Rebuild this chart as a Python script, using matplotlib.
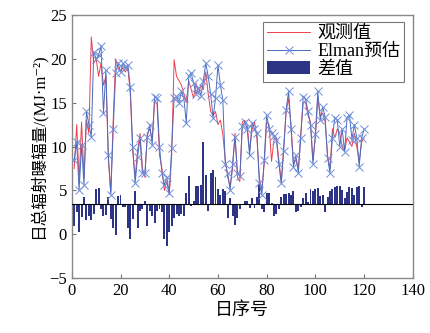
import numpy as np
import matplotlib
matplotlib.use('Agg')
import matplotlib.pyplot as plt

plt.rcParams['font.family'] = ['Liberation Serif', 'Noto Sans CJK SC', 'DejaVu Serif']

# 日序号
days = list(range(1, 121))

# 观测值
obs = [7.5, 12.5, 6.0, 12.8, 6.5, 13.0, 11.5, 22.5, 19.5, 20.0,
       18.0, 19.5, 17.0, 18.0, 8.5, 4.8, 13.0, 20.0, 19.0, 18.5,
       19.0, 18.5, 19.0, 16.0, 9.5, 6.5, 9.5, 11.5, 7.5, 6.5,
       11.5, 12.0, 10.8, 15.2, 14.8, 9.0, 7.5, 5.0, 6.0, 4.5,
       9.0, 19.9, 18.0, 17.5, 17.0, 16.0, 15.0, 17.5, 16.5, 15.5,
       17.2, 16.0, 17.0, 16.5, 18.5, 16.0, 14.0, 13.5, 14.0, 12.5,
       13.0, 11.4, 8.5, 6.5, 5.5, 7.5, 11.5, 6.5, 6.0, 12.8,
       13.0, 12.5, 9.5, 12.0, 12.8, 11.0, 6.5, 5.0, 8.0, 12.8,
       12.5, 8.3, 10.8, 11.0, 8.5, 6.0, 10.0, 14.0, 15.5, 12.5,
       8.0, 8.5, 7.5, 11.5, 15.0, 15.0, 13.5, 12.8, 8.5, 11.0,
       15.5, 13.5, 13.8, 12.8, 9.0, 7.5, 12.0, 11.0, 12.0, 11.5,
       10.0, 9.5, 11.0, 10.5, 10.0, 11.5, 10.0, 8.3, 10.5, 11.0]

# Elman预估
pred = [8.5, 10.5, 5.0, 10.2, 5.6, 14.0, 12.5, 11.1, 20.8, 20.0,
        20.4, 21.5, 13.8, 18.7, 9.0, 4.5, 12.0, 18.4, 19.5, 18.5,
        19.5, 19.0, 19.3, 16.8, 10.0, 5.8, 8.8, 11.0, 7.0, 7.0,
        11.1, 12.5, 10.2, 15.7, 15.5, 10.0, 7.0, 5.6, 6.5, 4.7,
        9.8, 15.5, 15.7, 15.0, 16.3, 15.5, 12.7, 18.0, 18.4, 17.2,
        16.0, 16.7, 15.8, 17.5, 19.5, 18.0, 16.0, 13.3, 15.5, 19.3,
        17.0, 15.3, 8.0, 7.0, 5.0, 8.0, 11.1, 7.0, 6.6, 12.3,
        12.8, 12.0, 9.0, 12.7, 12.0, 11.5, 5.8, 4.5, 8.5, 13.6,
        12.0, 11.5, 11.2, 10.8, 8.0, 5.8, 9.5, 14.2, 16.3, 12.0,
        7.7, 9.0, 7.0, 11.0, 15.7, 15.4, 14.0, 12.5, 8.0, 11.4,
        16.3, 13.0, 14.5, 13.4, 8.7, 7.0, 11.0, 13.3, 13.0, 10.0,
        12.0, 9.4, 13.3, 13.6, 10.8, 12.5, 11.0, 7.7, 11.0, 12.0]

# 差值 (drawn from the zero line of the difference panel)
diff = [-2.6, -1.0, -3.3, -1.5, 0.7, -1.9, -1.4, -1.9, -1.2, 1.6,
        1.8, -0.6, -1.4, -1.3, 0.7, -1.8, -2.8, -3.6, 0.9, 1.0,
        -0.4, -0.4, -2.8, -4.0, -1.8, 1.4, -2.8, -0.8, -0.6, 0.3,
        -2.6, -0.8, -1.4, -2.2, -0.8, -0.6, -1.0, -4.0, -4.8, -3.2,
        -2.6, -1.6, -1.2, -1.4, -1.2, -1.4, 1.2, 3.1, -0.3, 0.3,
        2.0, 2.0, 2.1, 7.0, 3.2, -0.8, 3.5, 3.8, 3.0, 1.6,
        1.0, 1.6, 1.4, -1.7, 0.6, -1.4, -2.4, -1.6, -0.6, -0.2,
        0.3, 0.3, -0.5, 0.6, -0.5, 0.8, 2.2, -0.6, -1.0, 1.2,
        1.2, 0.1, -1.4, -1.2, -0.6, 0.8, 1.1, 1.1, 1.2, 1.0,
        1.4, -1.0, -0.8, -0.4, 0.6, 1.2, 0.2, 1.6, 1.4, 1.6,
        1.8, 0.9, 1.0, -1.0, 0.8, 1.4, 1.7, 1.9, 2.0, 2.0,
        1.5, 0.6, 1.3, 1.9, 1.8, 1.0, 1.9, 2.0, -0.4, 1.9]

base = 3.5

fig = plt.figure(figsize=(4.3, 3.33), dpi=100)
ax = fig.add_axes([0.167, 0.165, 0.793, 0.79])

ax.bar(days, diff, bottom=base, width=0.8, color='#2e3485', label='差值', zorder=2)
ax.axhline(base, color='black', lw=0.8, zorder=3)
ax.plot(days, obs, color='#f0404f', lw=0.7, label='观测值', zorder=4)
ax.plot(days, pred, color='#4a6cc0', lw=0.7, marker='x', markersize=6,
        markeredgecolor='#6f8fd8', markeredgewidth=0.7, label='Elman预估', zorder=5)

ax.set_xlim(0, 140)
ax.set_ylim(-5, 25)
ax.set_xticks(range(0, 141, 20))
ax.set_yticks(range(-5, 26, 5))
ax.set_yticklabels(['\u22125', '0', '5', '10', '15', '20', '25'])
ax.tick_params(direction='in', labelsize=12, length=3, color='#777777')
for s in ax.spines.values():
    s.set_color('#888888')
    s.set_linewidth(1.0)

ax.set_xlabel('日序号', fontsize=13, labelpad=2)
ax.set_ylabel('日总辐射曝辐量/(MJ·m\u207b\u00b2)', fontsize=12, labelpad=2)

leg = ax.legend(loc='upper right',
                bbox_to_anchor=(0.975, 0.975), borderaxespad=0, fancybox=False,
                fontsize=13, handlelength=2.4, labelspacing=0.05,
                borderpad=0.2, handletextpad=0.4, framealpha=1)
leg.get_frame().set_edgecolor('#777777')
leg.get_frame().set_linewidth(0.8)

fig.savefig('out.png', dpi=100)
